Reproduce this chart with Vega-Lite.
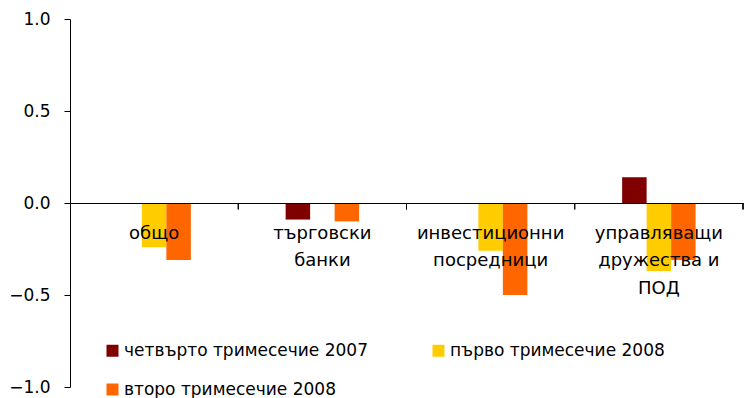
{
  "$schema": "https://vega.github.io/schema/vega-lite/v6.json",
  "width": 673,
  "height": 368,
  "autosize": {"type": "none"},
  "padding": {"left": 70, "top": 19, "right": 9, "bottom": 11},
  "config": {
    "font": "DejaVu Sans",
    "view": {"stroke": null},
    "axis": {"grid": false}
  },
  "data": {
    "values": [
      {"sector": "общо", "period": "първо тримесечие 2008", "value": -0.24},
      {"sector": "общо", "period": "второ тримесечие 2008", "value": -0.31},
      {"sector": "търговски банки", "period": "четвърто тримесечие 2007", "value": -0.09},
      {"sector": "търговски банки", "period": "второ тримесечие 2008", "value": -0.10},
      {"sector": "инвестиционни посредници", "period": "първо тримесечие 2008", "value": -0.26},
      {"sector": "инвестиционни посредници", "period": "второ тримесечие 2008", "value": -0.50},
      {"sector": "управляващи дружества и ПОД", "period": "четвърто тримесечие 2007", "value": 0.14},
      {"sector": "управляващи дружества и ПОД", "period": "първо тримесечие 2008", "value": -0.37},
      {"sector": "управляващи дружества и ПОД", "period": "второ тримесечие 2008", "value": -0.31}
    ]
  },
  "layer": [
    {
      "mark": {"type": "bar"},
      "encoding": {
        "x": {
          "field": "sector",
          "type": "nominal",
          "sort": ["общо", "търговски банки", "инвестиционни посредници", "управляващи дружества и ПОД"],
          "scale": {"paddingInner": 0, "paddingOuter": 0},
          "axis": {
            "title": null,
            "orient": "bottom",
            "offset": -184,
            "ticks": false,
            "tickSize": 0,
            "labelPadding": 21,
            "labelAngle": 0,
            "labelFontSize": 18,
            "labelColor": "black",
            "labelLineHeight": 27.5,
            "labelLimit": 400,
            "labelOverlap": false,
            "domainColor": "black",
            "zindex": 1,
            "labelExpr": "datum.label == 'управляващи дружества и ПОД' ? ['управляващи', 'дружества и', 'ПОД'] : split(datum.label, ' ')"
          }
        },
        "xOffset": {
          "field": "period",
          "type": "nominal",
          "scale": {
            "domain": ["_gap_left", "четвърто тримесечие 2007", "първо тримесечие 2008", "второ тримесечие 2008", "_gap_right"],
            "paddingInner": 0,
            "paddingOuter": 0.935
          }
        },
        "y": {
          "field": "value",
          "type": "quantitative",
          "scale": {"domain": [-1, 1], "nice": false},
          "axis": {
            "title": null,
            "values": [-1, -0.5, 0, 0.5, 1],
            "format": ".1f",
            "labelFontSize": 17,
            "labelColor": "black",
            "labelPadding": 14,
            "tickSize": 6,
            "tickColor": "black",
            "domainColor": "black"
          }
        },
        "color": {
          "field": "period",
          "type": "nominal",
          "scale": {
            "domain": ["четвърто тримесечие 2007", "първо тримесечие 2008", "второ тримесечие 2008"],
            "range": ["#800000", "#FFCC00", "#FF6600"]
          },
          "legend": {
            "title": null,
            "orient": "none",
            "legendX": 34,
            "legendY": 323,
            "direction": "horizontal",
            "columns": 2,
            "symbolType": "square",
            "symbolSize": 144,
            "symbolStrokeWidth": 0,
            "labelFontSize": 17,
            "labelColor": "black",
            "labelOffset": 3,
            "columnPadding": 62,
            "rowPadding": 21,
            "padding": 0,
            "labelLimit": 400
          }
        }
      }
    },
    {
      "mark": {"type": "rule", "color": "black", "strokeWidth": 1},
      "encoding": {
        "x": {
          "field": "sector",
          "type": "nominal",
          "sort": ["общо", "търговски банки", "инвестиционни посредници", "управляващи дружества и ПОД"],
          "bandPosition": 1
        },
        "y": {"datum": 0},
        "y2": {"datum": -0.035}
      }
    }
  ]
}
